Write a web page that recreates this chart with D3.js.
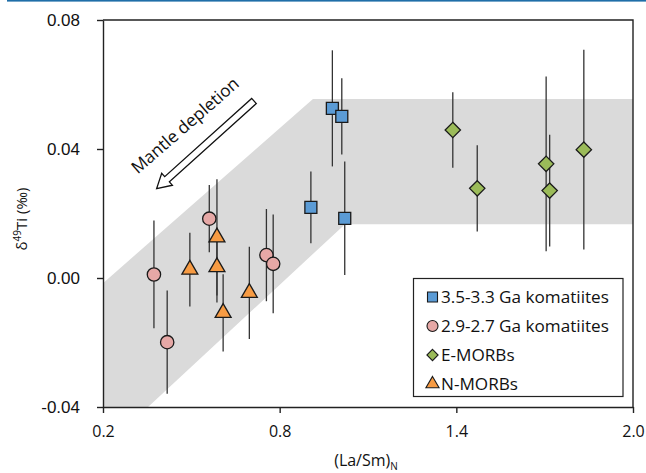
<!DOCTYPE html>
<meta charset="utf-8">
<style>
  body { margin: 0; background: #fff; }
  .lbl { font-family: "Open Sans", Lato, sans-serif; fill: #111; }
  .ytick text { font-family: "Liberation Sans", Arial, sans-serif; font-size: 17px; fill: #111; }
  .xtick text { font-family: "Open Sans", sans-serif; font-size: 16px; fill: #111; }
</style>
<body>
<script src="https://cdn.jsdelivr.net/npm/d3@7"></script>
<script>

// data: [La/Sm]N, d49Ti, 2sd
var komOld = [[0.979, 0.0526, 0.018], [1.011, 0.0501, 0.0118], [0.906, 0.0219, 0.0111], [1.021, 0.0185, 0.0176]];
var komYoung = [[0.373, 0.0011, 0.0167], [0.418, -0.0199, 0.016], [0.561, 0.0184, 0.0104], [0.755, 0.0071, 0.0143], [0.778, 0.0044, 0.0153]];
var eMorb = [[1.388, 0.0459, 0.0117], [1.471, 0.0278, 0.0134], [1.705, 0.0354, 0.0271], [1.717, 0.0271, 0.0173], [1.833, 0.0398, 0.031]];
var nMorb = [[0.495, 0.0026, 0.0114], [0.587, 0.0126, 0.018], [0.587, 0.0034, 0.011], [0.608, -0.0108, 0.012], [0.697, -0.0046, 0.0143]];

// grey field (data coords)
var band = [[0.2, -0.0016], [0.913, 0.0555], [2.0, 0.0555], [2.0, 0.0167], [1.022, 0.0167], [0.353, -0.04], [0.2, -0.04]];

var xTicks = [0.2, 0.8, 1.4, 2.0];
var yTicks = [-0.04, 0.00, 0.04, 0.08];

var legendNames = ["3.5-3.3 Ga komatiites", "2.9-2.7 Ga komatiites", "E-MORBs", "N-MORBs"];

var W = 646, H = 473;
var svg = d3.select("body").append("svg")
    .attr("width", W)
    .attr("height", H);

// size a text so it spans a given width
function fitWidth(sel, w) {
  var fs = parseFloat(sel.style("font-size"));
  var len = sel.node().getComputedTextLength();
  sel.style("font-size", (fs * w / len).toFixed(2) + "px");
}

// thin blue rule at top
svg.append("rect")
    .attr("x", 7).attr("y", 0).attr("width", W - 7).attr("height", 1.6)
    .attr("fill", "#1f6ea8");

var x = d3.scaleLinear().domain([0.2, 2.0]).range([103, 633]);
var y = d3.scaleLinear().domain([-0.04, 0.08]).range([407, 20]);

svg.append("path")
    .datum(band)
    .attr("d", d3.line().x(d => x(d[0])).y(d => y(d[1])))
    .attr("fill", "#dadada");

// frame
svg.append("path")
    .attr("d", "M" + x(0.2) + "," + y(0.08) + "H" + x(2.0) + "V" + y(-0.04))
    .attr("fill", "none")
    .attr("stroke", "#222")
    .attr("stroke-width", 1.4);

svg.append("g")
    .attr("class", "ytick")
    .attr("transform", "translate(" + x(0.2) + ",0)")
    .call(d3.axisLeft(y).tickValues(yTicks)
      .tickFormat(d => d3.format(".2f")(d).replace("\u2212", "-"))
      .tickSize(6).tickSizeOuter(0).tickPadding(17))
    .call(g => g.selectAll("line,path").attr("stroke", "#222").attr("stroke-width", 1.4));

svg.append("g")
    .attr("class", "xtick")
    .attr("transform", "translate(0," + y(-0.04) + ")")
    .call(d3.axisBottom(x).tickValues(xTicks).tickFormat(d3.format(".1f")).tickSize(6).tickSizeOuter(0).tickPadding(13))
    .call(g => g.selectAll("line,path").attr("stroke", "#222").attr("stroke-width", 1.4));

// axis titles
var yt = svg.append("text")
    .attr("class", "lbl")
    .attr("transform", "translate(27,219) rotate(-90)")
    .attr("text-anchor", "middle")
    .style("font-size", "15px");
yt.append("tspan").text("δ");
yt.append("tspan").attr("dy", -6).style("font-size", "10px").text("49");
yt.append("tspan").attr("dy", 6).text("Ti (‰)");

var xt = svg.append("text")
    .attr("class", "lbl")
    .attr("x", 366).attr("y", 466)
    .attr("text-anchor", "middle")
    .style("font-size", "16px");
xt.append("tspan").text("(La/Sm)");
xt.append("tspan").attr("dy", 4).style("font-size", "10px").text("N");

// mantle depletion arrow
var L = 131;
svg.append("path")
    .attr("transform", "translate(254,101) rotate(138)")
    .attr("d", d3.line()([[0, -3.5], [L - 14, -3.5], [L - 14, -8], [L, 0], [L - 14, 8], [L - 14, 3.5], [0, 3.5]]) + "Z")
    .attr("fill", "#fff")
    .attr("stroke", "#111")
    .attr("stroke-width", 1.3);

var md = svg.append("text")
    .attr("class", "lbl")
    .attr("transform", "translate(189,130) rotate(-41)")
    .attr("text-anchor", "middle")
    .style("font-size", "16px")
    .text("Mantle depletion");
fitWidth(md, 136);

var series = [
  { data: komOld, sym: d3.symbolSquare, size: 144, fill: "#5b9bd5" },
  { data: komYoung, sym: d3.symbolCircle, size: 140, fill: "#e6a8a6" },
  { data: eMorb, sym: d3.symbolDiamond2, size: 150, fill: "#9bbb59" },
  { data: nMorb, sym: d3.symbolTriangle, size: 110, fill: "#f79b43" }
];

// error bars first
series.forEach(function(s) {
  svg.append("g").selectAll("line")
    .data(s.data)
    .enter().append("line")
      .attr("x1", d => x(d[0])).attr("x2", d => x(d[0]))
      .attr("y1", d => y(d[1] + d[2])).attr("y2", d => y(d[1] - d[2]))
      .attr("stroke", "#333")
      .attr("stroke-width", 1.3);
});

series.forEach(function(s) {
  svg.append("g").selectAll("path")
    .data(s.data)
    .enter().append("path")
      .attr("transform", d => "translate(" + x(d[0]) + "," + y(d[1]) + ")")
      .attr("d", d3.symbol().type(s.sym).size(s.size))
      .attr("fill", s.fill)
      .attr("stroke", "#1a1a1a")
      .attr("stroke-width", 1.3);
});

// legend
var lg = svg.append("g");
lg.append("rect")
    .attr("x", 413.5).attr("y", 278.5).attr("width", 209.5).attr("height", 118)
    .attr("fill", "#fff")
    .attr("stroke", "#222")
    .attr("stroke-width", 1.2);

var legendSize = [100, 95, 80, 75];
var legendText = [];
legendNames.forEach(function(name, i) {
  var cy = 297 + i * 29;
  lg.append("path")
      .attr("transform", "translate(432.5," + cy + ")")
      .attr("d", d3.symbol().type(series[i].sym).size(legendSize[i]))
      .attr("fill", series[i].fill)
      .attr("stroke", "#1a1a1a")
      .attr("stroke-width", 1.1);
  legendText.push(lg.append("text")
      .attr("class", "lbl")
      .attr("x", 441).attr("y", cy + 6)
      .style("font-size", "16px")
      .text(name));
});
fitWidth(legendText[0], 168);
legendText.forEach(t => t.style("font-size", legendText[0].style("font-size")));

</script>
</body>
